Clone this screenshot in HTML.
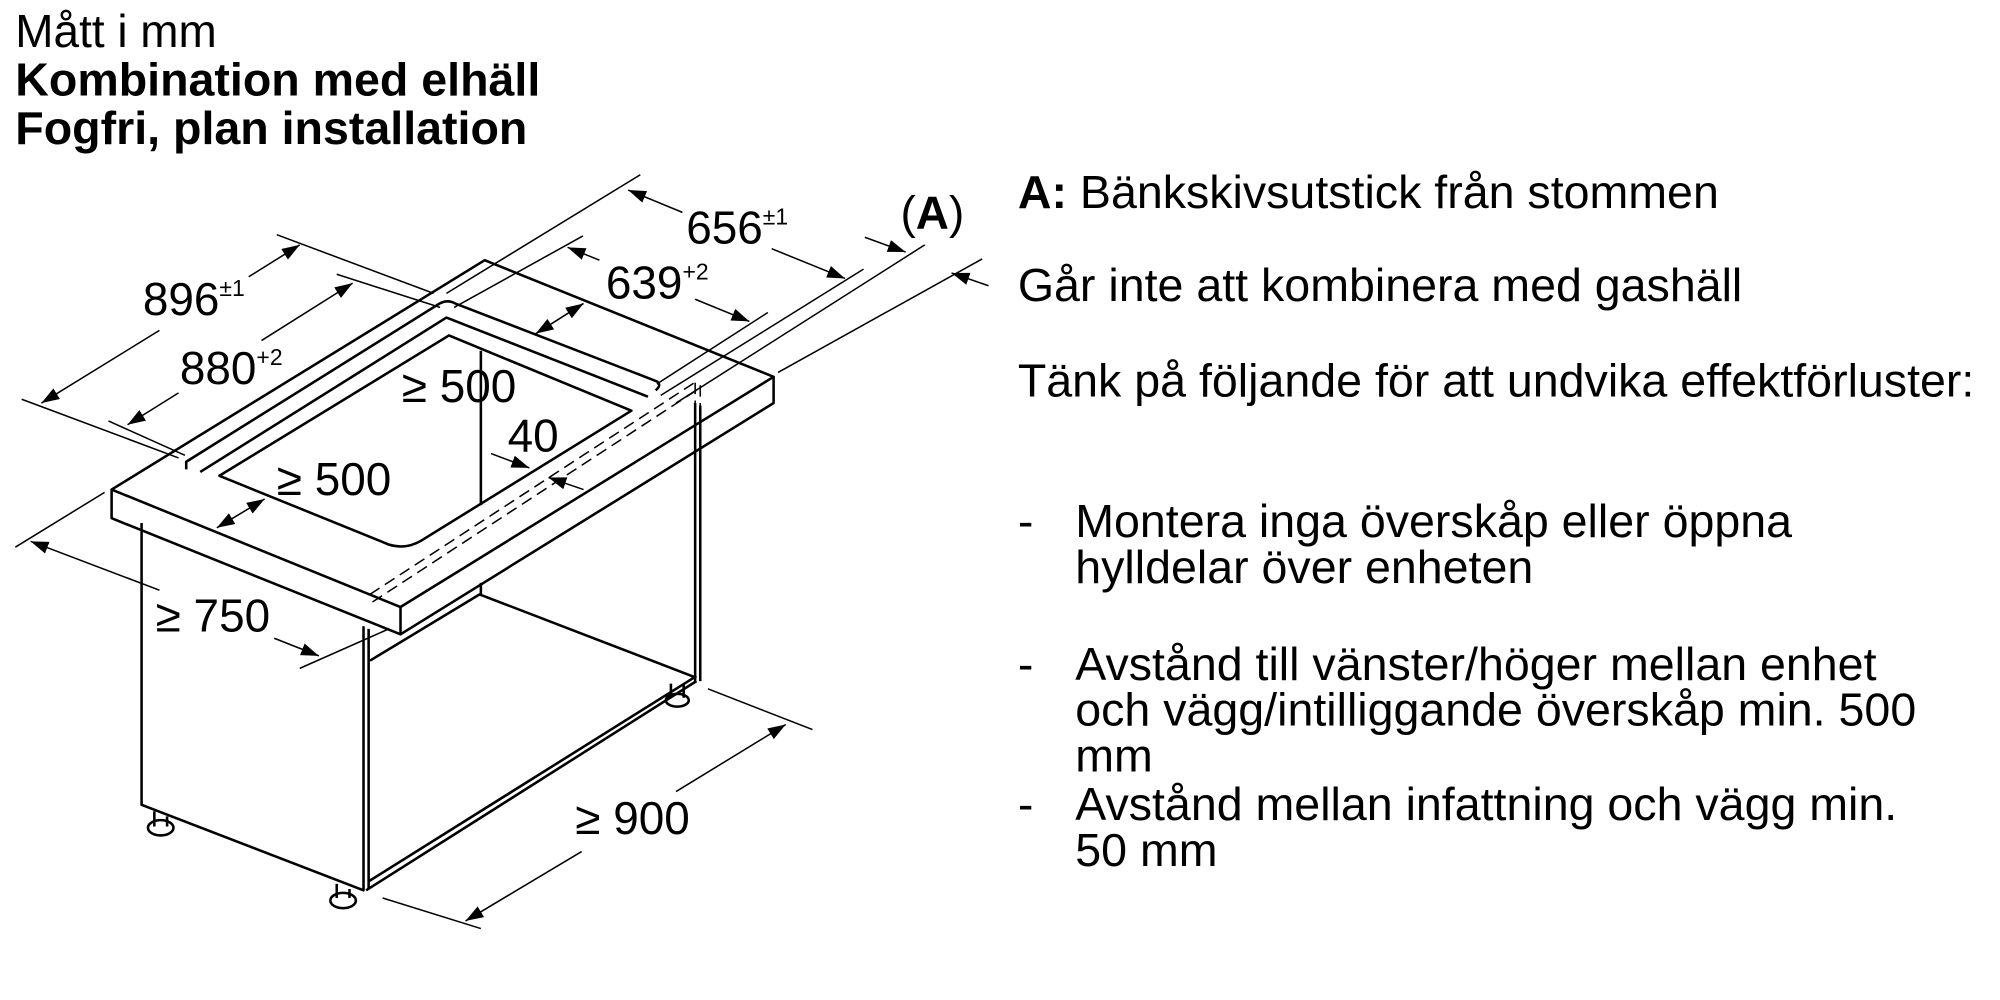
<!DOCTYPE html>
<html><head><meta charset="utf-8"><style>
html,body{margin:0;padding:0;background:#fff;width:2000px;height:1000px;overflow:hidden}
svg{display:block}
text{font-family:"Liberation Sans",sans-serif;fill:#000}
</style></head><body>
<svg width="2000" height="1000" viewBox="0 0 1568 784" preserveAspectRatio="none" xmlns="http://www.w3.org/2000/svg">
<defs>
<marker id="a" viewBox="0 0 10 10" refX="10" refY="5" markerWidth="14" markerHeight="14" markerUnits="userSpaceOnUse" orient="auto-start-reverse"><path d="M0,1.5 L10,5 L0,8.5 z" fill="#000"/></marker>
</defs>
<text x="12" y="37" font-size="36">Mått i mm</text>
<text x="12" y="75" font-size="36.5" font-weight="bold">Kombination med elhäll</text>
<text x="12" y="113" font-size="36.5" font-weight="bold">Fogfri, plan installation</text>
<g font-size="36.5">
<text x="798" y="163"><tspan font-weight="bold">A:</tspan> Bänkskivsutstick från stommen</text>
<text x="798" y="236">Går inte att kombinera med gashäll</text>
<text x="798" y="311">Tänk på följande för att undvika effektförluster:</text>
<text x="798" y="421">-</text><text x="843" y="421">Montera inga överskåp eller öppna</text>
<text x="843" y="457">hylldelar över enheten</text>
<text x="798" y="533">-</text><text x="843" y="533">Avstånd till vänster/höger mellan enhet</text>
<text x="843" y="569">och vägg/intilliggande överskåp min. 500</text>
<text x="843" y="605">mm</text>
<text x="798" y="643">-</text><text x="843" y="643">Avstånd mellan infattning och vägg min.</text>
<text x="843" y="679">50 mm</text>
</g>
<g fill="none" stroke="#000" stroke-width="2" stroke-linejoin="round">
<path d="M87.5,383.8 L380,204 L606.5,295.4 L314,475.9 Z" fill="#fff"/>
<path d="M87.5,383.8 L87.5,406.3 L314,497.3 L606.5,316 L606.5,295.4 M314,475.9 L314,497.3"/>
<path d="M146,368 L146,362 L343,239 Q350,234 357,238 L515,299 Q519,302 514,306"/>
<path d="M157,370 L350,249 L508,311"/>
<path d="M172,373 L352,263 L495,322 L330,424 Q318,431 305,427 Z"/>
<path d="M111,410 L111,631 L285,698 L285,491 M289,697 L289,493 M287,698 L546,534 M289,691 L546,530 M545,316 L545,534 M549,318 L549,534"/>
<path d="M290,518 L376,466 L545,531 M377,457 L377,466 M377,275 L377,396"/>
<path d="M121,636 L121,648 M131,640 L131,648"/>
<ellipse cx="126" cy="649" rx="10" ry="6"/>
<path d="M264,693 L264,704 M274,697 L274,704"/>
<ellipse cx="269" cy="706" rx="10" ry="6"/>
<path d="M526,536 L526,547 M536,536 L536,547"/>
<ellipse cx="531" cy="549" rx="9" ry="5"/>
</g>
<g fill="none" stroke="#000" stroke-width="1.2" stroke-dasharray="9,5">
<path d="M290,466 L546,299"/>
<path d="M292,472 L546,306"/>
<path d="M545,300 L545,360 M549,302 L549,360"/>
</g>
<g fill="none" stroke="#000" stroke-width="1.2">
<path d="M17,313 L140,359 M217,184 L340,230"/>
<path d="M85,330 L145,357 M264,215 L345,241"/>
<path d="M350,230 L502,137 M356,241 L457,185"/>
<path d="M515,301 L602,245 M518,310 L677,211 M530,316 L725,192 M610,292 L770,203"/>
<path d="M12,429 L82,386 M235,524 L305,493"/>
<path d="M555,540 L637,572 M300,704 L377,728"/>
<path marker-end="url(#a)" d="M125,259 L32.5,316"/>
<path marker-end="url(#a)" d="M195,217 L235,192"/>
<path marker-end="url(#a)" d="M140,308 L100,333"/>
<path marker-end="url(#a)" d="M205,267 L276.5,222"/>
<path marker-end="url(#a)" d="M535,166.5 L492.5,149"/>
<path marker-end="url(#a)" d="M605,195 L662.5,218.3"/>
<path marker-end="url(#a)" d="M470,204 L445,193.9"/>
<path marker-end="url(#a)" d="M545,234.6 L587.5,252"/>
<path marker-end="url(#a)" d="M678,186 L710,197.6"/>
<path marker-end="url(#a)" d="M775,224 L746,214"/>
<path marker-end="url(#a)" d="M125,462.7 L24,424.4"/>
<path marker-end="url(#a)" d="M215,500.4 L250,514.2"/>
<path marker-end="url(#a)" d="M530,620.6 L616,568"/>
<path marker-end="url(#a)" d="M456,667.6 L365,722"/>
<path marker-start="url(#a)" marker-end="url(#a)" d="M170,413.8 L207.5,391.2"/>
<path marker-start="url(#a)" marker-end="url(#a)" d="M420,261.6 L457.5,237.9"/>
<path marker-end="url(#a)" d="M385,355.6 L415,366.8"/>
<path marker-end="url(#a)" d="M457.5,383.8 L430,374.4"/>
</g>
<g font-size="36">
<text x="112" y="247">896<tspan font-size="18" dy="-15">±1</tspan></text>
<text x="141" y="301">880<tspan font-size="18" dy="-15">+2</tspan></text>
<text x="538" y="191">656<tspan font-size="18" dy="-15">±1</tspan></text>
<text x="475" y="234">639<tspan font-size="18" dy="-15">+2</tspan></text>
<text x="706" y="179">(<tspan font-weight="bold">A</tspan>)</text>
<text x="315" y="315">≥ 500</text>
<text x="398" y="354">40</text>
<text x="217" y="388">≥ 500</text>
<text x="122" y="495">≥ 750</text>
<text x="451" y="654">≥ 900</text>
</g>
</svg>
</body></html>
